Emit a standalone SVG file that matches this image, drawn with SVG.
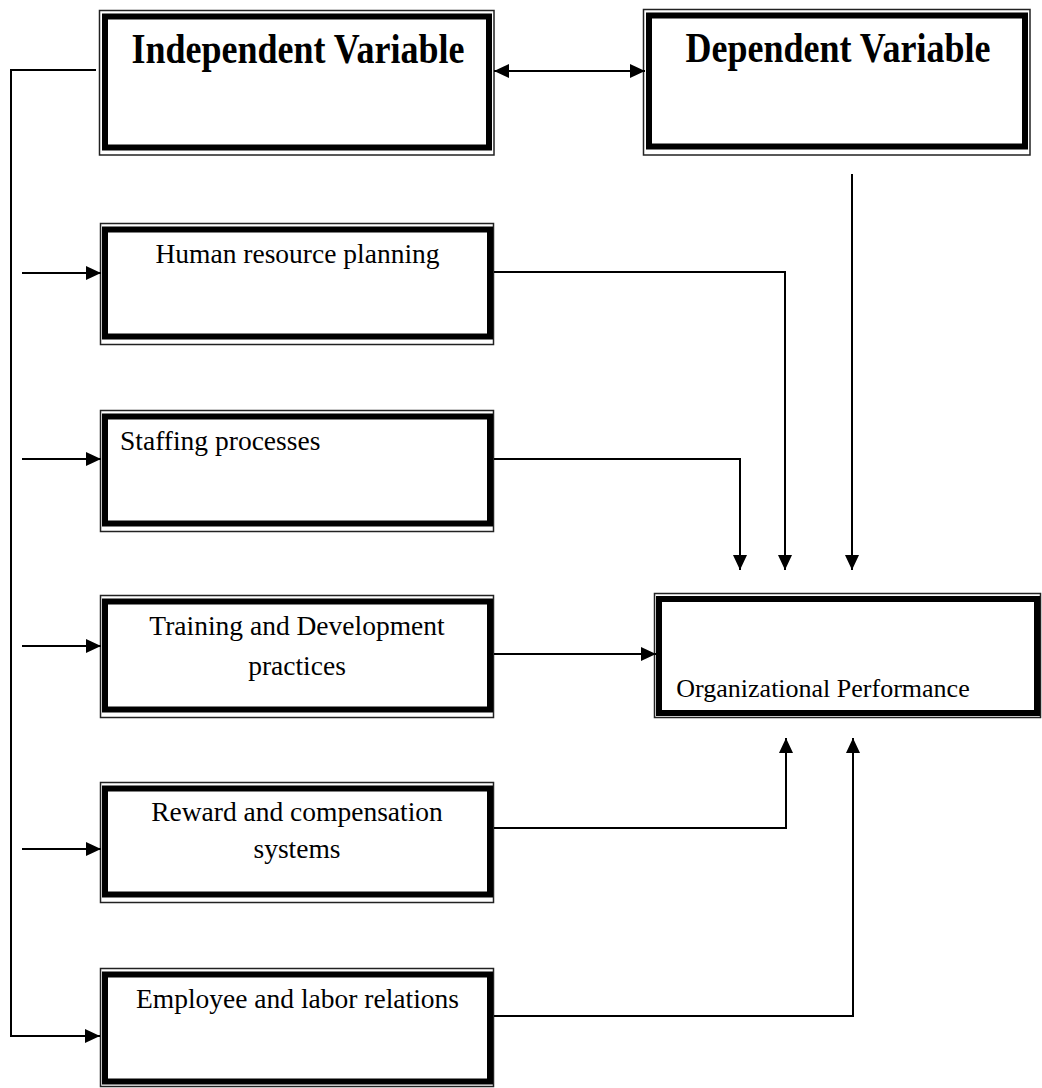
<svg xmlns="http://www.w3.org/2000/svg" width="1042" height="1088" viewBox="0 0 1042 1088">
<style>
.thin{fill:none;stroke:#222;stroke-width:1.5}
.thick{fill:none;stroke:#000;stroke-width:6}
.hd{font-family:"Liberation Serif","Times New Roman",serif;font-weight:bold;font-size:36px;fill:#000}
.tx{font-family:"Liberation Serif","Times New Roman",serif;font-size:27.5px;fill:#000}
.c{fill:none;stroke:#000;stroke-width:2}
</style>
<defs>
<marker id="ah" markerUnits="userSpaceOnUse" markerWidth="16" markerHeight="14" viewBox="0 0 16 14" refX="15" refY="7" orient="auto-start-reverse">
<path d="M0,0 L15,7 L0,14 Z" fill="#000"/>
</marker>
</defs>
<rect width="1042" height="1088" fill="#fff"/>

<g id="independent">
<rect class="thin" x="99.5" y="10.5" width="394.5" height="144.5"/>
<rect class="thick" x="105" y="16.5" width="384" height="131"/>
<text class="hd" transform="translate(298,63) scale(1,1.15)" text-anchor="middle">Independent Variable</text>
</g>

<g id="dependent">
<rect class="thin" x="643.5" y="9.5" width="386.5" height="145.5"/>
<rect class="thick" x="649" y="15.5" width="376" height="131"/>
<text class="hd" transform="translate(838,62) scale(1,1.15)" text-anchor="middle">Dependent Variable</text>
</g>

<g id="hrp">
<rect class="thin" x="100.5" y="223.5" width="393" height="121"/>
<rect class="thick" x="105" y="229.5" width="385" height="107"/>
<text class="tx" x="297.5" y="263" text-anchor="middle">Human resource planning</text>
</g>

<g id="staffing">
<rect class="thin" x="100.5" y="410.5" width="393" height="121"/>
<rect class="thick" x="105" y="416.5" width="385" height="107"/>
<text class="tx" x="120" y="450">Staffing processes</text>
</g>

<g id="training">
<rect class="thin" x="100.5" y="595.5" width="393" height="122"/>
<rect class="thick" x="105" y="601.5" width="385" height="108"/>
<text class="tx" x="297" y="635" text-anchor="middle">Training and Development</text>
<text class="tx" x="297" y="675" text-anchor="middle">practices</text>
</g>

<g id="performance">
<rect class="thin" x="654.5" y="593.5" width="386" height="124"/>
<rect class="thick" x="659" y="599" width="378" height="114"/>
<text class="tx" x="823" y="697" text-anchor="middle" style="font-size:26px">Organizational Performance</text>
</g>

<g id="reward">
<rect class="thin" x="100.5" y="782.5" width="393" height="120"/>
<rect class="thick" x="105" y="788.5" width="385" height="106"/>
<text class="tx" x="297" y="821" text-anchor="middle">Reward and compensation</text>
<text class="tx" x="297" y="858" text-anchor="middle">systems</text>
</g>

<g id="employee">
<rect class="thin" x="100.5" y="968.5" width="393" height="118"/>
<rect class="thick" x="105" y="974.5" width="385" height="107"/>
<text class="tx" x="297.5" y="1008" text-anchor="middle">Employee and labor relations</text>
</g>

<g id="connectors">
<path class="c" d="M96,70 H11 V1036 H100" marker-end="url(#ah)"/>
<path class="c" d="M494,71 H645" marker-start="url(#ah)" marker-end="url(#ah)"/>
<path class="c" d="M22,273 H101" marker-end="url(#ah)"/>
<path class="c" d="M22,459 H101" marker-end="url(#ah)"/>
<path class="c" d="M22,646 H101" marker-end="url(#ah)"/>
<path class="c" d="M22,849 H101" marker-end="url(#ah)"/>
<path class="c" d="M494,272 H785 V570" marker-end="url(#ah)"/>
<path class="c" d="M494,459 H740 V570" marker-end="url(#ah)"/>
<path class="c" d="M852,174 V570" marker-end="url(#ah)"/>
<path class="c" d="M494,654 H656" marker-end="url(#ah)"/>
<path class="c" d="M494,828 H786 V738" marker-end="url(#ah)"/>
<path class="c" d="M494,1016 H853 V738" marker-end="url(#ah)"/>
</g>
</svg>
